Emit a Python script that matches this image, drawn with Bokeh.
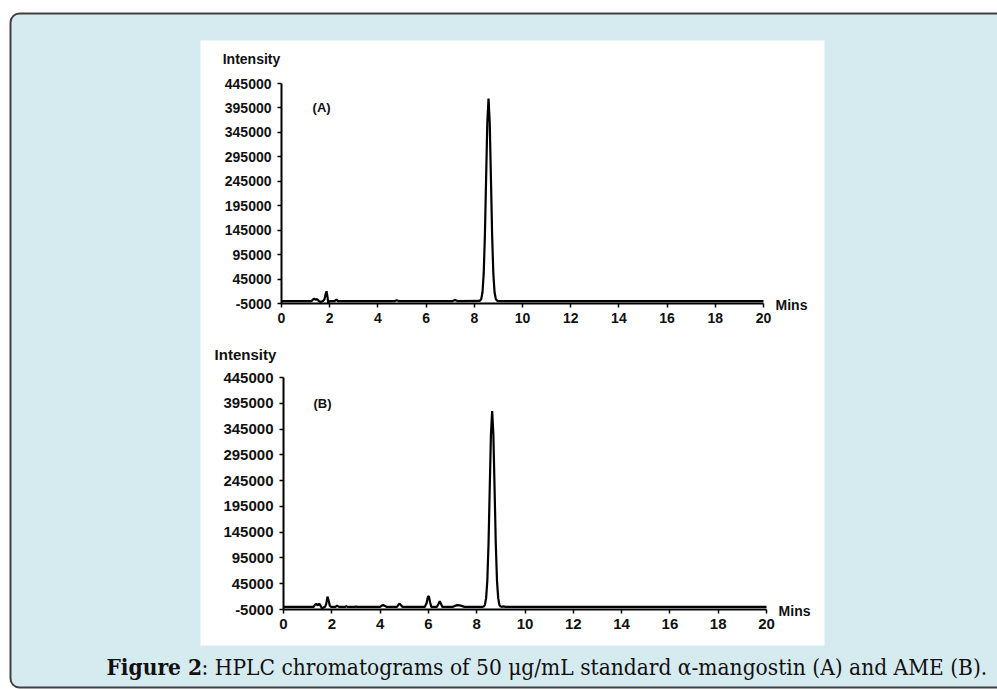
from bokeh.plotting import figure
from bokeh.models import Range1d, LinearAxis, FixedTicker, BasicTickFormatter
from bokeh.core.properties import value
from bokeh.embed import file_html
from bokeh.resources import INLINE

# ---------------- data ----------------
time_a = [0.0, 1.25, 1.3, 1.36, 1.42, 1.48, 1.55, 1.62, 1.72, 1.78, 1.83, 1.87, 1.91, 1.94,
          1.98, 2.05, 2.2, 2.28, 2.35, 2.45, 4.7, 4.78, 4.86, 7.1, 7.2, 7.3,
          8.2, 8.24, 8.29, 8.34, 8.39, 8.44, 8.49, 8.54, 8.59, 8.64, 8.69, 8.74, 8.79,
          8.84, 8.89, 8.94, 8.98, 20.0]
intensity_a = [0, 0, 3000, 5000, 2500, 4000, 0, -2000, 0, 3000, 14000, 20000, 8000, -4000,
               0, 0, 0, 3000, 0, 0, 0, 1500, 0, 0, 2000, 0,
               200, 900, 4600, 18000, 56000, 134000, 251000, 365000, 414000, 365000, 251000, 134000, 56000,
               18000, 4600, 900, 0, 0]

time_b = [0.0, 1.25, 1.3, 1.36, 1.42, 1.48, 1.55, 1.6, 1.65, 1.72, 1.77, 1.82, 1.87, 1.92, 1.97,
          2.05, 2.15, 2.22, 2.3, 2.55, 2.6, 2.65, 2.95, 3.0, 3.05, 4.0, 4.07, 4.13, 4.2, 4.28,
          4.7, 4.76, 4.81, 4.87, 4.93, 5.85, 5.93, 5.98, 6.02, 6.07, 6.12, 6.35, 6.42, 6.47,
          6.52, 6.58, 7.0, 7.1, 7.2, 7.3, 7.4, 7.5,
          8.25, 8.29, 8.34, 8.39, 8.44, 8.49, 8.54, 8.59, 8.64, 8.69, 8.74, 8.79, 8.84, 8.89,
          8.94, 8.99, 9.03, 9.1, 9.2, 20.0]
intensity_b = [0, 0, 4000, 6000, 3000, 6500, 1000, -4000, -1000, 0, 6000, 20000, 12000, 2000, 0,
               0, 0, 2500, 0, 0, 1500, 0, 0, 1000, 0, 0, 2500, 3500, 2000, 0,
               0, 4000, 6500, 3000, 0, 0, 8000, 20000, 21000, 9000, 0, 0, 6000, 11000,
               6000, 0, 0, 2000, 3500, 3000, 1500, 0,
               200, 800, 4200, 17000, 51000, 123000, 230000, 335000, 380000, 335000, 230000, 123000, 51000, 17000,
               4200, 800, 200, 1000, 0, 0]

x_ticks = [0, 2, 4, 6, 8, 10, 12, 14, 16, 18, 20]
y_ticks = [-5000, 45000, 95000, 145000, 195000, 245000, 295000, 345000, 395000, 445000]
panel_labels = ["(A)", "(B)"]
y_title = "Intensity"
x_title = "Mins"
caption_bold = "Figure 2"
caption_rest = ": HPLC chromatograms of 50 \u03bcg/mL standard \u03b1-mangostin (A) and AME (B)."

# ---------------- layout (page pixel coordinates) ----------------
W, H = 997, 689
PX0, PX1, PY0, PY1 = 0, 997, 0, 689

p = figure(width=W, height=H, x_range=Range1d(PX0, PX1), y_range=Range1d(PY1, PY0),
           output_backend="svg", toolbar_location=None, x_axis_type=None, y_axis_type=None,
           min_border=0, outline_line_color=None)
p.background_fill_color = "white"
p.border_fill_color = "white"

def xr(px_at0, px_at20):
    s = (px_at20 - px_at0) / 20.0
    return Range1d((PX0 - px_at0) / s, (PX1 - px_at0) / s)

def yr(px_lo, px_hi):
    s = 450000.0 / (px_lo - px_hi)
    return Range1d(-5000 - (PY1 - px_lo) * s, 445000 + (px_hi - PY0) * s)

p.extra_x_ranges = {"tA": xr(281, 763), "tB": xr(283, 766)}
p.extra_y_ranges = {"A": yr(303, 83), "B": yr(609, 377)}

# background box and white panel
try:
    p.quad(left=[10], right=[1010], top=[13], bottom=[687], fill_color="#d6ebf0",
           line_color="#404040", line_width=2, border_radius=9)
except Exception:
    p.quad(left=[10], right=[1010], top=[13], bottom=[687], fill_color="#d6ebf0",
           line_color="#404040", line_width=2)
p.quad(left=[200], right=[824], top=[40], bottom=[645], fill_color="white", line_color=None)

FONT = value("Liberation Sans")

def chart(xn, yn, ts, ys, label, fs, lab_x, int_x, int_y):
    p.line(ts, ys, x_range_name=xn, y_range_name=yn, line_color="black", line_width=2.2)
    xa = LinearAxis(x_range_name=xn, y_range_name=yn, fixed_location=-5000,
                    ticker=FixedTicker(ticks=x_ticks), bounds=(0, 20))
    ya = LinearAxis(x_range_name=xn, y_range_name=yn, fixed_location=0,
                    ticker=FixedTicker(ticks=y_ticks), bounds=(-5000, 445000),
                    formatter=BasicTickFormatter(use_scientific=False))
    ya.major_label_overrides = {-5000: "-5000"}
    for ax in (xa, ya):
        ax.axis_line_color = "black"
        ax.axis_line_width = 2
        ax.major_tick_line_color = "black"
        ax.major_tick_line_width = 1.5
        ax.major_tick_out = 4
        ax.major_tick_in = 0
        ax.minor_tick_out = 0
        ax.minor_tick_in = 0
        ax.major_label_text_font = "Liberation Sans"
        ax.major_label_text_font_style = "bold"
        ax.major_label_text_font_size = fs
        ax.major_label_text_color = "#111111"
    xa.major_label_standoff = 5
    ya.major_label_standoff = 6
    p.add_layout(xa, "below")
    p.add_layout(ya, "left")
    p.text(x=[lab_x], y=[395000], text=[label], x_range_name=xn, y_range_name=yn,
           text_font=FONT, text_font_style="bold", text_font_size="13px",
           text_baseline="middle", text_align="left", text_color="#111111")
    p.text(x=[20.5], y=[-5000], text=[x_title], x_range_name=xn, y_range_name=yn,
           text_font=FONT, text_font_style="bold", text_font_size="14px",
           text_baseline="middle", text_align="left", text_color="#111111", y_offset=1)
    p.text(x=[int_x], y=[int_y], text=[y_title], x_range_name=xn, y_range_name=yn,
           text_font=FONT, text_font_style="bold", text_font_size=fs,
           text_baseline="middle", text_align="right", text_color="#111111")

chart("tA", "A", time_a, intensity_a, panel_labels[0], "14px", 1.29, -0.05, 496000)
chart("tB", "B", time_b, intensity_b, panel_labels[1], "15px", 1.24, -0.3, 490500)

# caption
CAP_FONT = value("DejaVu Serif Condensed")
p.text(x=[106], y=[666], text=[caption_bold], text_font=CAP_FONT,
       text_font_style="bold", text_font_size="22.5px", text_baseline="middle",
       text_align="left", text_color="#111111")
p.text(x=[201], y=[666], text=[caption_rest], text_font=CAP_FONT,
       text_font_size="22.5px", text_baseline="middle", text_align="left", text_color="#111111")

open("out.html", "w").write(file_html(p, INLINE))
